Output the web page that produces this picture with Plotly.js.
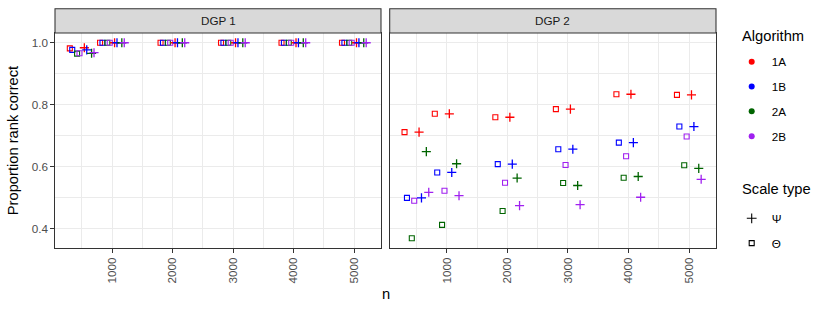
<!DOCTYPE html>
<html>
<head>
<meta charset="utf-8">
<script src="https://cdn.plot.ly/plotly-3.0.1.min.js"></script>
<style>html,body{margin:0;padding:0;background:#fff;}#chart{width:830px;height:312px;}</style>
</head>
<body>
<div id="chart"></div>
<script>
// ---- data ----
var nValues = [500, 1000, 2000, 3000, 4000, 5000];
var algorithms = ['1A', '1B', '2A', '2B'];
var panels = ['DGP 1', 'DGP 2'];
var scaleTypes = ['Ψ', 'Θ'];

// DGP 1, scale type Θ
var dgp1Theta1A = [0.982, 1, 1, 1, 1, 1];
var dgp1Theta1B = [0.977, 1, 1, 1, 1, 1];
var dgp1Theta2A = [0.965, 1, 1, 1, 1, 1];
var dgp1Theta2B = [0.966, 1, 1, 1, 1, 1];
// DGP 1, scale type Ψ
var dgp1Psi1A = [0.984, 1, 1, 1, 1, 1];
var dgp1Psi1B = [0.977, 1, 1, 1, 1, 1];
var dgp1Psi2A = [0.966, 1, 1, 1, 1, 1];
var dgp1Psi2B = [0.968, 1, 1, 1, 1, 1];
// DGP 2, scale type Θ
var dgp2Theta1A = [0.712, 0.771, 0.760, 0.786, 0.834, 0.832];
var dgp2Theta1B = [0.500, 0.582, 0.609, 0.657, 0.678, 0.730];
var dgp2Theta2A = [0.370, 0.413, 0.458, 0.548, 0.565, 0.605];
var dgp2Theta2B = [0.491, 0.523, 0.549, 0.606, 0.634, 0.698];
// DGP 2, scale type Ψ
var dgp2Psi1A = [0.712, 0.771, 0.760, 0.786, 0.834, 0.832];
var dgp2Psi1B = [0.500, 0.582, 0.609, 0.657, 0.678, 0.730];
var dgp2Psi2A = [0.649, 0.610, 0.564, 0.540, 0.569, 0.595];
var dgp2Psi2B = [0.518, 0.507, 0.475, 0.478, 0.502, 0.560];

var xTicks = [1000, 2000, 3000, 4000, 5000];
var yTicks = [0.4, 0.6, 0.8, 1.0];

// ---- style ----
var algoColors = {'1A': '#FF0000', '1B': '#0000FF', '2A': '#006400', '2B': '#A020F0'};
var dodge = {'Θ': [-200, -160, -80, -40], 'Ψ': [40, 80, 160, 200]};
var symbols = {'Ψ': 'cross-thin-open', 'Θ': 'square-open'};
var symSize = {'Ψ': 6.5, 'Θ': 5};

var series = {
  'DGP 1': {'Θ': [dgp1Theta1A, dgp1Theta1B, dgp1Theta2A, dgp1Theta2B],
            'Ψ': [dgp1Psi1A, dgp1Psi1B, dgp1Psi2A, dgp1Psi2B]},
  'DGP 2': {'Θ': [dgp2Theta1A, dgp2Theta1B, dgp2Theta2A, dgp2Theta2B],
            'Ψ': [dgp2Psi1A, dgp2Psi1B, dgp2Psi2A, dgp2Psi2B]}
};

var FONT = 'Liberation Sans, Arial, sans-serif';
var W = 830, H = 312;
var mL = 55.3, mR = W - 716.3, mT = 32.7, mB = H - 248.3;
var plotW = W - mL - mR, plotH = H - mT - mB;
var d1 = [0, 326 / plotW];
var d2 = [(390 - mL) / plotW, 1];
var stripH = 24.4 / plotH;
function px2x(px) { return (px - mL) / plotW; }
function px2y(py) { return (H - mB - py) / plotH; }

var traces = [];
panels.forEach(function (p, pi) {
  ['Θ', 'Ψ'].forEach(function (s) {
    algorithms.forEach(function (a, ai) {
      var off = dodge[s][ai];
      traces.push({
        type: 'scatter', mode: 'markers',
        x: nValues.map(function (n) { return n + off; }),
        y: series[p][s][ai],
        xaxis: pi === 0 ? 'x' : 'x2', yaxis: pi === 0 ? 'y' : 'y2',
        name: a + ' ' + s, showlegend: false, hoverinfo: 'x+y+name',
        marker: {symbol: symbols[s], size: symSize[s], color: algoColors[a],
                 line: {color: algoColors[a], width: s === 'Ψ' ? 1.3 : 1.1}}
      });
    });
  });
});

// legend entries
algorithms.forEach(function (a) {
  traces.push({type: 'scatter', mode: 'markers', x: [null], y: [null], name: a,
    legend: 'legend', legendgroup: 'alg' + a, showlegend: true,
    marker: {symbol: 'circle', size: 6, color: algoColors[a]}});
});
scaleTypes.forEach(function (s) {
  traces.push({type: 'scatter', mode: 'markers', x: [null], y: [null], name: s,
    legend: 'legend2', legendgroup: 'sc' + s, showlegend: true,
    marker: {symbol: symbols[s], size: s === 'Ψ' ? 7 : 5, color: '#000000',
             line: {color: '#000000', width: 1.1}}});
});

function xAxis(dom, anchor) {
  return {
    domain: dom, anchor: anchor, range: [55, 5445],
    tickmode: 'array', tickvals: xTicks, ticktext: xTicks.map(String),
    tickangle: -90, ticks: 'outside', ticklen: 3.7, tickwidth: 1.07, tickcolor: '#333333',
    tickfont: {family: FONT, size: 11.7, color: '#4d4d4d'},
    showline: true, mirror: true, linecolor: '#333333', linewidth: 1.07,
    showgrid: true, gridcolor: '#ebebeb', gridwidth: 1.07, zeroline: false,
    minor: {tickvals: [500, 1500, 2500, 3500, 4500], showgrid: true, gridcolor: '#ebebeb', gridwidth: 0.55, ticks: ''},
    fixedrange: true
  };
}
function yAxis(anchor, labels) {
  var ax = {
    domain: [0, 1], anchor: anchor, range: [0.3385, 1.0315],
    tickmode: 'array', tickvals: yTicks, ticktext: yTicks.map(function (v) { return v.toFixed(1); }),
    ticks: labels ? 'outside' : '', ticklen: 3.7, tickwidth: 1.07, tickcolor: '#333333',
    showticklabels: labels,
    tickfont: {family: FONT, size: 11.7, color: '#4d4d4d'},
    showline: true, mirror: true, linecolor: '#333333', linewidth: 1.07,
    showgrid: true, gridcolor: '#ebebeb', gridwidth: 1.07, zeroline: false,
    minor: {tickvals: [0.5, 0.7, 0.9], showgrid: true, gridcolor: '#ebebeb', gridwidth: 0.55, ticks: ''},
    fixedrange: true
  };
  if (labels) {
    ax.title = {text: 'Proportion rank correct', font: {family: FONT, size: 14.7, color: '#000000'}, standoff: 9};
  } else {
    ax.matches = 'y';
  }
  return ax;
}

var shapes = [], annotations = [];
panels.forEach(function (p, pi) {
  var xr = (pi === 0 ? 'x' : 'x2') + ' domain';
  var yr = (pi === 0 ? 'y' : 'y2') + ' domain';
  shapes.push({type: 'rect', xref: xr, yref: yr, x0: 0, x1: 1, y0: 1, y1: 1 + stripH,
    fillcolor: '#d9d9d9', line: {color: '#333333', width: 1.07}, layer: 'above'});
  annotations.push({text: p, xref: xr, yref: yr, x: 0.5, y: 1 + stripH / 2,
    xanchor: 'center', yanchor: 'middle', showarrow: false,
    font: {family: FONT, size: 11.7, color: '#1a1a1a'}});
});
annotations.push({text: 'n', xref: 'paper', yref: 'paper', x: 0.5, y: px2y(294),
  xanchor: 'center', yanchor: 'middle', showarrow: false,
  font: {family: FONT, size: 14.7, color: '#000000'}});
// legend titles
annotations.push({text: 'Algorithm', xref: 'paper', yref: 'paper', x: px2x(740.5), y: px2y(36),
  xanchor: 'left', yanchor: 'middle', showarrow: false,
  font: {family: FONT, size: 14.7, color: '#000000'}});
annotations.push({text: 'Scale type', xref: 'paper', yref: 'paper', x: px2x(740.5), y: px2y(189),
  xanchor: 'left', yanchor: 'middle', showarrow: false,
  font: {family: FONT, size: 14.7, color: '#000000'}});

var layout = {
  width: W, height: H,
  margin: {l: mL, r: mR, t: mT, b: mB, pad: 0},
  paper_bgcolor: '#ffffff', plot_bgcolor: '#ffffff',
  font: {family: FONT, color: '#000000'},
  xaxis: xAxis(d1, 'y'), xaxis2: xAxis(d2, 'y2'),
  yaxis: yAxis('x', true), yaxis2: yAxis('x2', false),
  shapes: shapes, annotations: annotations,
  legend: {x: px2x(732), y: px2y(47), xanchor: 'left', yanchor: 'top',
    font: {family: FONT, size: 11.7, color: '#000000'}, tracegroupgap: 5.8,
    bgcolor: 'rgba(0,0,0,0)', borderwidth: 0},
  legend2: {x: px2x(732), y: px2y(204), xanchor: 'left', yanchor: 'top',
    font: {family: FONT, size: 11.7, color: '#000000'}, tracegroupgap: 5.8,
    bgcolor: 'rgba(0,0,0,0)', borderwidth: 0},
  hovermode: 'closest'
};

Plotly.newPlot('chart', traces, layout, {displayModeBar: false, responsive: false});
</script>
</body>
</html>
